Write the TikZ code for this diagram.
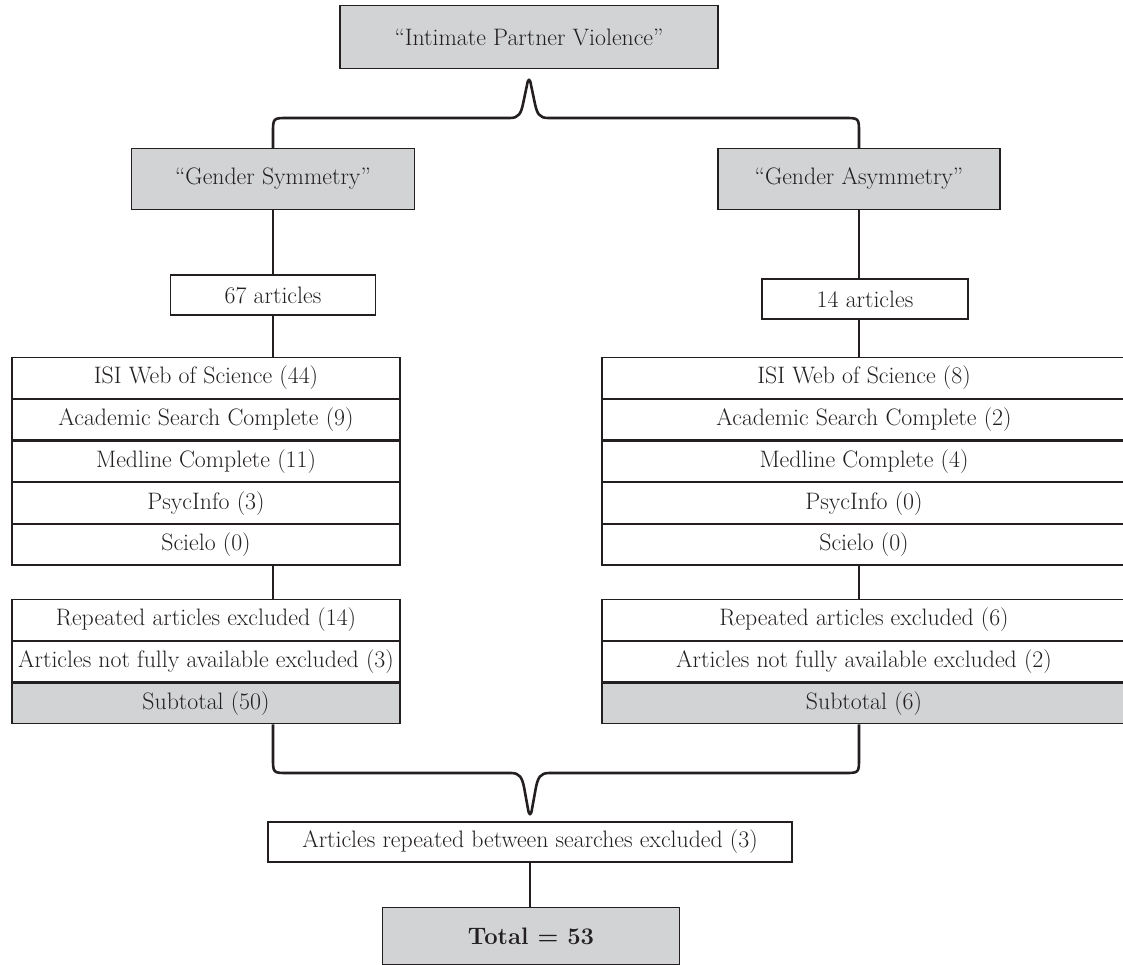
\documentclass[tikz,border=0pt]{standalone}
\definecolor{boxgray}{HTML}{D1D3D4}
\definecolor{ink}{HTML}{231F20}
\newcommand{\fsz}{\fontsize{23.8}{28}\selectfont}
\tikzset{
  box/.style={draw=ink, line width=1.2pt, inner sep=0pt, text=ink, font=\fsz, align=center},
  gbox/.style={box, fill=boxgray},
  lrow/.style={box, minimum width=388pt, minimum height=40.5pt},
  rrow/.style={box, minimum width=524pt, minimum height=40.5pt},
  conn/.style={draw=ink, line width=2.6pt},
  brace/.style={draw=ink, line width=2.6pt, line join=round},
}
\begin{document}
\begin{tikzpicture}[x=1pt, y=-1pt]
\useasboundingbox (0,0) rectangle (1123,965);
% top
\node[gbox, minimum width=378pt, minimum height=63pt] (ipv) at (529,37) {``Intimate Partner Violence''};
\node[gbox, minimum width=283pt, minimum height=61pt] (gs) at (273,179) {``Gender Symmetry''};
\node[gbox, minimum width=282pt, minimum height=61pt] (ga) at (859,179) {``Gender Asymmetry''};
\node[box, minimum width=205pt, minimum height=40pt] (a67) at (273,295) {67 articles};
\node[box, minimum width=206pt, minimum height=40pt] (a14) at (865,299) {14 articles};
% left table
\node[lrow] (l1) at (206,378) {ISI Web of Science (44)};
\node[lrow, anchor=north] (l2) at (l1.south) {Academic Search Complete (9)};
\node[lrow, anchor=north] (l3) at (l2.south) {Medline Complete (11)};
\node[lrow, anchor=north] (l4) at (l3.south) {PsycInfo (3)};
\node[lrow, anchor=north] (l5) at (l4.south) {Scielo (0)};
\node[lrow] (l6) at (206,620) {Repeated articles excluded (14)};
\node[lrow, anchor=north] (l7) at (l6.south) {Articles not fully available excluded (3)};
\node[lrow, anchor=north, fill=boxgray] (l8) at (l7.south) {Subtotal (50)};
% right table
\node[rrow] (r1) at (864,378) {ISI Web of Science (8)};
\node[rrow, anchor=north] (r2) at (r1.south) {Academic Search Complete (2)};
\node[rrow, anchor=north] (r3) at (r2.south) {Medline Complete (4)};
\node[rrow, anchor=north] (r4) at (r3.south) {PsycInfo (0)};
\node[rrow, anchor=north] (r5) at (r4.south) {Scielo (0)};
\node[rrow] (r6) at (864,620) {Repeated articles excluded (6)};
\node[rrow, anchor=north] (r7) at (r6.south) {Articles not fully available excluded (2)};
\node[rrow, anchor=north, fill=boxgray] (r8) at (r7.south) {Subtotal (6)};
% bottom
\node[box, minimum width=524pt, minimum height=40pt] (rep) at (530,842) {Articles repeated between searches excluded (3)};
\node[gbox, minimum width=297pt, minimum height=57pt] (tot) at (531,936) {\bfseries Total = 53};
% connectors
\draw[conn] (gs.south) -- (a67.north);
\draw[conn] (a67.south) -- (a67.south |- l1.north);
\draw[conn] (a67.south |- l5.south) -- (a67.south |- l6.north);
\draw[conn] (ga.south) -- (ga.south |- a14.north);
\draw[conn] (ga.south |- a14.south) -- (ga.south |- r1.north);
\draw[conn] (ga.south |- r5.south) -- (ga.south |- r6.north);
\draw[conn] (rep.south) -- (rep.south |- tot.north);
% braces
\coordinate (tpeak) at (529,79);
\coordinate (bpeak) at (530,816);
\draw[brace] (gs.north) -- (273,133) .. controls (273,118) .. (288,118) -- (510,118)
  .. controls (519,118) and (521,113) .. (523,104) -- (527,85) .. controls (528,78) and (530,78) .. (531,85)
  -- (535,104) .. controls (537,113) and (539,118) .. (548,118) -- (844,118) .. controls (859,118) .. (859,133) -- (ga.north);
\draw[brace] (a67.south |- l8.south) -- (273,758) .. controls (273,773) .. (288,773) -- (511,773)
  .. controls (520,773) and (522,778) .. (524,787) -- (528,809) .. controls (529,816) and (531,816) .. (532,809)
  -- (536,787) .. controls (538,778) and (540,773) .. (549,773) -- (844,773) .. controls (859,773) .. (859,758) -- (ga.south |- r8.south);
\end{tikzpicture}
\end{document}
